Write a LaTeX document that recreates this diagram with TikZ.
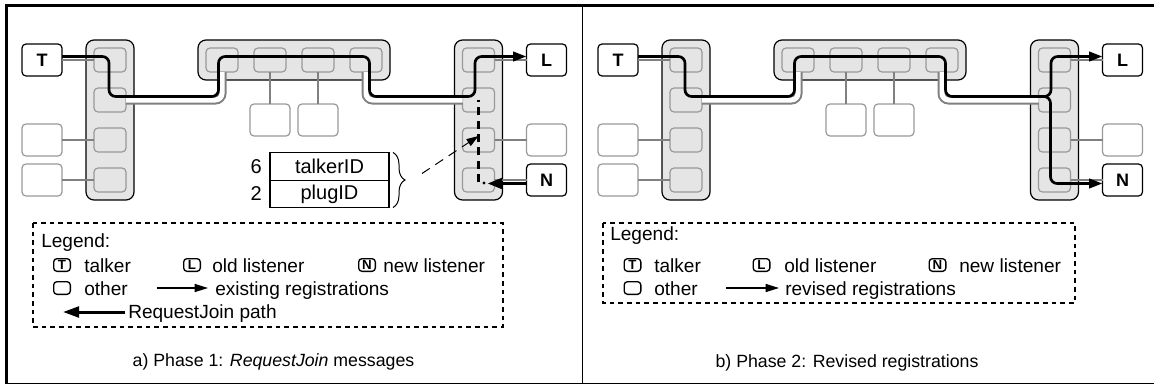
\documentclass[tikz,border=0pt]{standalone}
\usepackage{fontspec}
\setmainfont{Liberation Sans}
\usetikzlibrary{arrows.meta,positioning,fit,backgrounds,calc,decorations.pathreplacing}
\tikzset{port node/.style={rectangle,rounded corners=3pt,draw=gray!80,fill=gray!20,line width=0.9pt,
              minimum width=24pt,minimum height=18pt,inner sep=0pt,outer sep=0pt},
         other node/.style={port node,fill=white,minimum width=30pt,minimum height=24pt},
         end node/.style={other node,draw=black,font=\fontsize{13.5}{15}\selectfont\bfseries},
         group node/.style={rectangle,rounded corners=6pt,draw,fill=gray!20,line width=0.9pt,inner sep=6pt},
         link/.style={draw=gray,line width=1.5pt,double=white,double distance=3.75pt,rounded corners=5pt},
         reg path/.style={draw,line width=2pt,rounded corners=5pt,-{Triangle[length=10pt,width=7pt]}},
         join path/.style={draw,line width=2.25pt},
         msg line/.style={draw,line width=0.75pt,dash pattern=on 7pt off 5pt,-{Triangle[length=9pt,width=6pt]}},
         field node/.style={rectangle,draw,line width=1.1pt,minimum width=89.25pt,minimum height=21pt,
              inner sep=0pt,outer sep=0pt,font=\fontsize{15}{17}\selectfont},
         plain node/.style={inner sep=0pt,font=\fontsize{15}{17}\selectfont},
         legend box/.style={draw,line width=1pt,dash pattern=on 3.5pt off 3pt},
         key node/.style={rectangle,draw,rounded corners=2.5pt,line width=1pt,minimum width=12.5pt,
              minimum height=9.5pt,inner sep=0pt,font=\fontsize{10}{10}\selectfont\bfseries},
         leg text/.style={anchor=base west,inner sep=0pt,font=\fontsize{14.3}{16}\selectfont},
         cap text/.style={anchor=base,inner sep=0pt,font=\fontsize{13.3}{15}\selectfont},
            }

\begin{document}
\begin{tikzpicture}[x=0.75pt,y=-0.75pt]
    \useasboundingbox (0,0) rectangle (1154,386);

    % the same network in both phases
    \foreach \p/\dx in {a/0,b/576}{
    \begin{scope}[shift={(\dx,0)}]
    \node[port node] (\p-s1) at (110,60) {};
    \node[port node] (\p-s2) [below=12pt of \p-s1] {};
    \node[port node] (\p-s3) [below=12pt of \p-s2] {};
    \node[port node] (\p-s4) [below=12pt of \p-s3] {};
    \node[port node] (\p-m1) at (222,60) {};
    \node[port node] (\p-m2) [right=12pt of \p-m1] {};
    \node[port node] (\p-m3) [right=12pt of \p-m2] {};
    \node[port node] (\p-m4) [right=12pt of \p-m3] {};
    \node[port node] (\p-r1) at (478.5,60) {};
    \node[port node] (\p-r2) [below=12pt of \p-r1] {};
    \node[port node] (\p-r3) [below=12pt of \p-r2] {};
    \node[port node] (\p-r4) [below=12pt of \p-r3] {};

    \node[end node] (\p-T) [left=24pt of \p-s1] {T};
    \node[other node] (\p-o1) [left=24pt of \p-s3] {};
    \node[other node] (\p-o2) [left=24pt of \p-s4] {};
    \node[other node] (\p-o3) [below=24pt of \p-m2] {};
    \node[other node] (\p-o4) [below=24pt of \p-m3] {};
    \node[end node] (\p-L) [right=24pt of \p-r1] {L};
    \node[other node] (\p-o5) [right=24pt of \p-r3] {};
    \node[end node] (\p-N) [right=24pt of \p-r4] {N};

    \begin{scope}[on background layer]
    \node[group node,fit=(\p-s1)(\p-s4)] (\p-left) {};
    \node[group node,fit=(\p-m1)(\p-m4)] (\p-top) {};
    \node[group node,fit=(\p-r1)(\p-r4)] (\p-right) {};
    \end{scope}

    \path[link]
    (\p-T) edge (\p-s1)
    (\p-o1) edge (\p-s3)
    (\p-o2) edge (\p-s4)
    (\p-m2) edge (\p-o3)
    (\p-m3) edge (\p-o4)
    (\p-r1) edge (\p-L)
    (\p-r3) edge (\p-o5)
    (\p-r4) edge (\p-N);
    \draw[link] (\p-s2.east) -| (\p-m1.south);
    \draw[link] (\p-m4.south) |- (\p-r2.west);

    \draw[reg path] ([yshift=2.625pt]\p-T.east) -- ++(47,0) -- ++(0,40) -- ++(109.5,0) -- ++(0,-40)
        -- ++(151,0) -- ++(0,40) -- ++(105.5,0) -- ++(0,-40) -- ([yshift=2.625pt]\p-L.west);
    \end{scope}
    }

    % phase 1: message from the new listener
    \node[field node] (a-tid) at (329.5,166.5) {talkerID};
    \node[field node,minimum height=20.25pt] (a-pid) [below=0pt of a-tid] {plugID};
    \node[plain node] (a-six) [left=6pt of a-tid] {6};
    \node[plain node] (a-two) [left=6pt of a-pid] {2};
    \draw[decorate,decoration={brace,amplitude=9pt},line width=0.75pt]
        ([xshift=3pt]a-tid.north east) -- ([xshift=3pt]a-pid.south east);
    \coordinate (a-brace) at ($(a-tid.south east)+(33,-7)$);
    \coordinate (a-hit) at ($(a-r3.center)+(0,-4)$);
    \draw[msg line] (a-brace) -- (a-hit);
    \draw[join path,dash pattern=on 6pt off 4pt] ($(a-r4.center)+(-0.5,2)$) -- ($(a-r2.center)+(-0.5,0)$);
    \draw[join path,-{Triangle[length=11pt,width=8pt]}] ([yshift=-2.625pt]a-N.west) -- ++(-39,0);
    \fill ($(a-r4.center)+(5.5,3)$) circle (1.2pt);

    % phase 2: revised registrations
    \draw[reg path] ([yshift=2.625pt]b-r2.west) -- ++(12,0) -- ++(0,87) -- ([yshift=-2.625pt]b-N.west);

    % legends
    \draw[legend box] (33,223) rectangle (503,327);
    \node[leg text] (a-leg) at (41,247) {Legend:};
    \node[key node] (a-kT) at (62,265) {T};
    \node[leg text] (a-tT) at (84,272) {talker};
    \node[key node] (a-kL) at (192,265) {L};
    \node[leg text] (a-tL) at (212,272) {old listener};
    \node[key node] (a-kN) at (367,265) {N};
    \node[leg text] (a-tN) at (383,272) {new listener};
    \node[key node] (a-kO) at (62,288) {};
    \node[leg text] (a-tO) at (84,295) {other};
    \draw[line width=1pt,-{Triangle[length=10pt,width=6pt]}] (157,288) -- (208,288);
    \node[leg text] (a-tR) at (215,295) {existing registrations};
    \draw[join path,-{Triangle[length=12pt,width=8pt]}] (125,312) -- (63,312);
    \node[leg text] (a-tJ) at (128,318) {RequestJoin path};
    \node[cap text] (a-cap) at (273.5,366) {a) Phase 1: \textit{RequestJoin} messages};

    \begin{scope}[shift={(576,0)}]
    \draw[legend box] (27,223) rectangle (499,303);
    \node[leg text] (b-leg) at (34,240) {Legend:};
    \node[key node] (b-kT) at (56.5,265) {T};
    \node[leg text] (b-tT) at (78,272) {talker};
    \node[key node] (b-kL) at (185.5,265) {L};
    \node[leg text] (b-tL) at (208,272) {old listener};
    \node[key node] (b-kN) at (361.5,265) {N};
    \node[leg text] (b-tN) at (383,272) {new listener};
    \node[key node] (b-kO) at (56.5,288) {};
    \node[leg text] (b-tO) at (78,295) {other};
    \draw[line width=1pt,-{Triangle[length=10pt,width=6pt]}] (150,288) -- (203,288);
    \node[leg text] (b-tR) at (209,295) {revised registrations};
    \node[cap text] (b-cap) at (271,367) {b) Phase 2: Revised registrations};
    \end{scope}

    % frame
    \draw[line width=2.25pt] (6.5,384) -- (6.5,5.5) -- (1154,5.5);
    \draw[line width=0.75pt] (5,383.5) -- (1154,383.5);
    \draw[line width=0.75pt] (582.5,5.5) -- (582.5,383.5);
  \end{tikzpicture}
\end{document}
